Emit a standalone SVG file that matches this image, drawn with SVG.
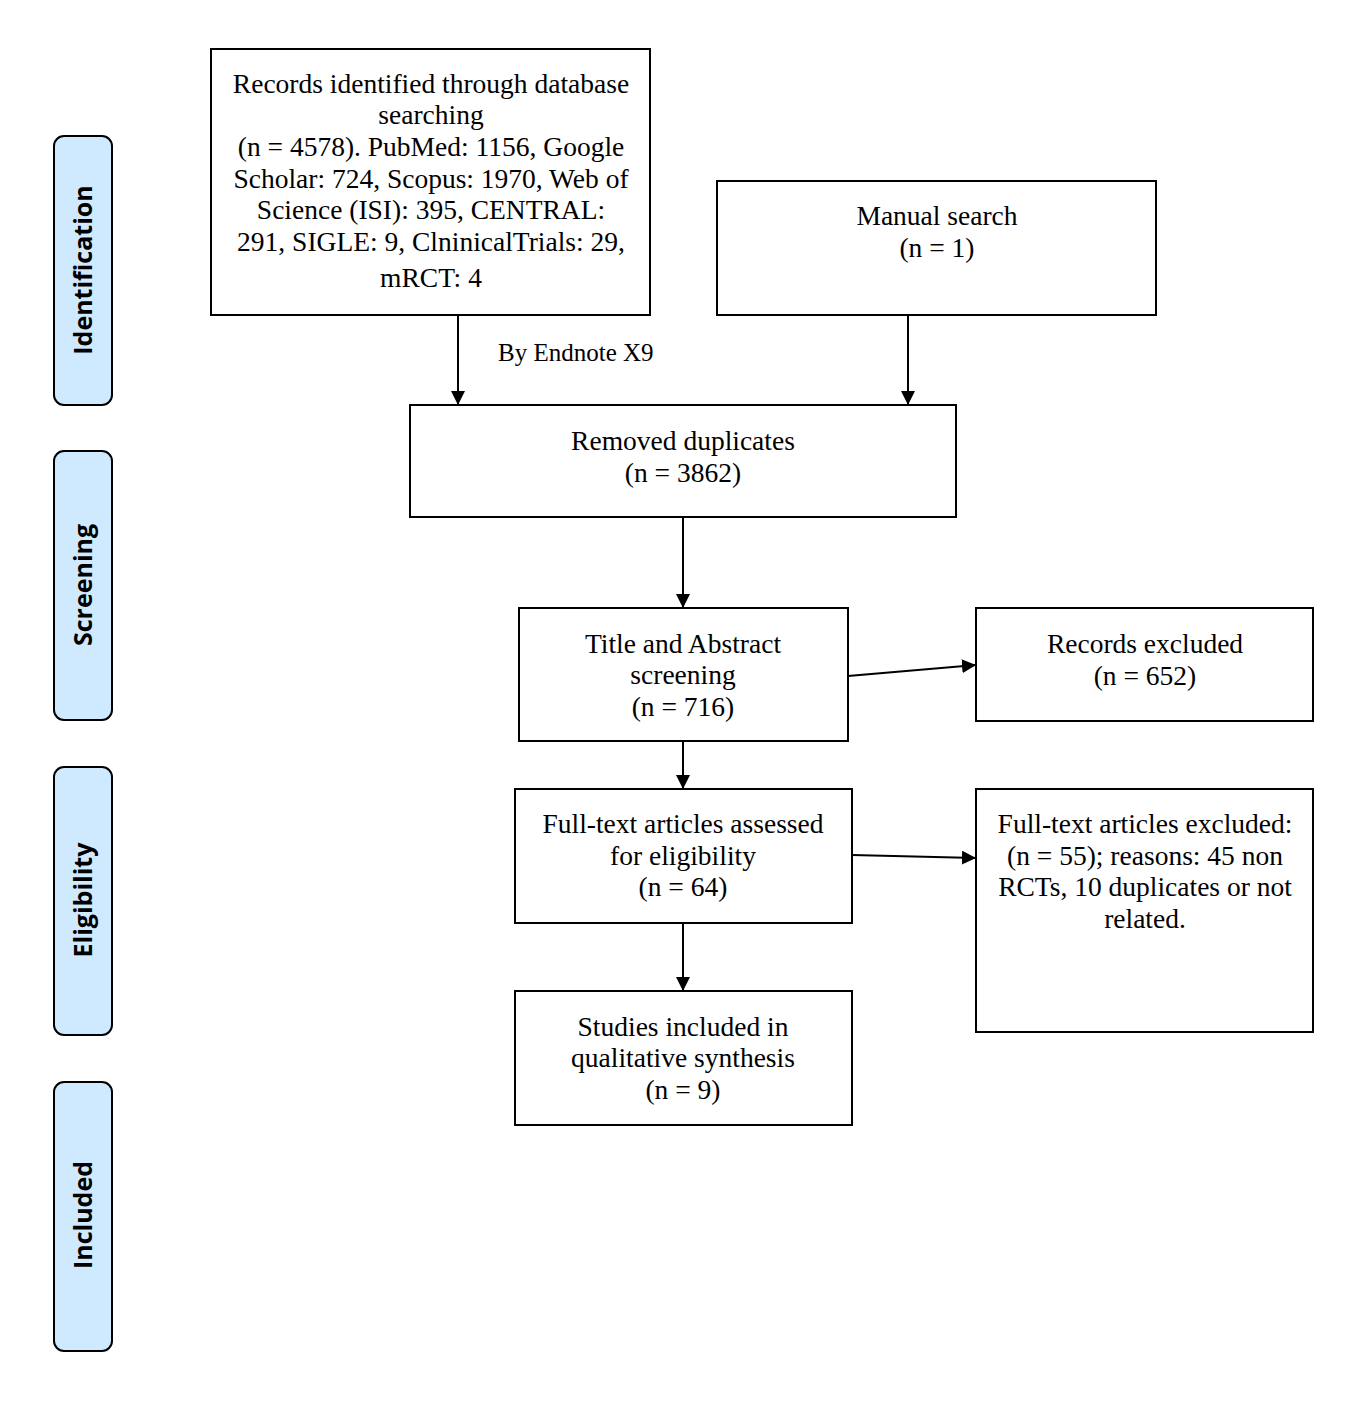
<svg xmlns="http://www.w3.org/2000/svg" width="1372" height="1408" viewBox="0 0 1372 1408">
<defs>
<marker id="ah" viewBox="0 0 10 10" refX="10" refY="5" markerWidth="14" markerHeight="14" markerUnits="userSpaceOnUse" orient="auto"><path d="M0,0 L10,5 L0,10 z" fill="#000"/></marker>
<style>
.box{fill:#fff;stroke:#000;stroke-width:2}
.side{fill:#cfeaff;stroke:#000;stroke-width:2}
.t{font-family:"Liberation Serif","Times New Roman",serif;font-size:27.5px;fill:#000;text-anchor:middle}
.s{font-family:"Open Sans","DejaVu Sans",sans-serif;font-size:25px;font-weight:bold;fill:#000;text-anchor:middle}
.c{stroke:#000;stroke-width:2;fill:none;marker-end:url(#ah)}
</style>
</defs>
<rect width="1372" height="1408" fill="#fff"/>
<g id="stage-identification"><rect class="side" x="54" y="136" width="58" height="269" rx="10"/><text class="s" transform="translate(92,270) rotate(-90)">Identification</text></g>
<g id="stage-screening"><rect class="side" x="54" y="451" width="58" height="269" rx="10"/><text class="s" transform="translate(92,585) rotate(-90)">Screening</text></g>
<g id="stage-eligibility"><rect class="side" x="54" y="767" width="58" height="268" rx="10"/><text class="s" transform="translate(92,900) rotate(-90)">Eligibility</text></g>
<g id="stage-included"><rect class="side" x="54" y="1082" width="58" height="269" rx="10"/><text class="s" transform="translate(92,1215) rotate(-90)">Included</text></g>

<g id="records"><rect class="box" x="211" y="49" width="439" height="266"/>
<text class="t"><tspan x="431" y="93">Records identified through database</tspan><tspan x="431" y="124">searching</tspan><tspan x="431" y="156">(n = 4578). PubMed: 1156, Google</tspan><tspan x="431" y="188">Scholar: 724, Scopus: 1970, Web of</tspan><tspan x="431" y="219">Science (ISI): 395, CENTRAL:</tspan><tspan x="431" y="251">291, SIGLE: 9, ClninicalTrials: 29,</tspan><tspan x="431" y="287">mRCT: 4</tspan></text></g>
<g id="manual"><rect class="box" x="717" y="181" width="439" height="134"/>
<text class="t"><tspan x="937" y="225">Manual search</tspan><tspan x="937" y="257">(n = 1)</tspan></text></g>
<g id="duplicates"><rect class="box" x="410" y="405" width="546" height="112"/>
<text class="t"><tspan x="683" y="450">Removed duplicates</tspan><tspan x="683" y="482">(n = 3862)</tspan></text></g>
<g id="screening"><rect class="box" x="519" y="608" width="329" height="133"/>
<text class="t"><tspan x="683" y="653">Title and Abstract</tspan><tspan x="683" y="684">screening</tspan><tspan x="683" y="716">(n = 716)</tspan></text></g>
<g id="excluded1"><rect class="box" x="976" y="608" width="337" height="113"/>
<text class="t"><tspan x="1145" y="653">Records excluded</tspan><tspan x="1145" y="685">(n = 652)</tspan></text></g>
<g id="fulltext"><rect class="box" x="515" y="789" width="337" height="134"/>
<text class="t"><tspan x="683" y="833">Full-text articles assessed</tspan><tspan x="683" y="865">for eligibility</tspan><tspan x="683" y="896">(n = 64)</tspan></text></g>
<g id="excluded2"><rect class="box" x="976" y="789" width="337" height="243"/>
<text class="t"><tspan x="1145" y="833">Full-text articles excluded:</tspan><tspan x="1145" y="865">(n = 55); reasons: 45 non</tspan><tspan x="1145" y="896">RCTs, 10 duplicates or not</tspan><tspan x="1145" y="928">related.</tspan></text></g>
<g id="included"><rect class="box" x="515" y="991" width="337" height="134"/>
<text class="t"><tspan x="683" y="1036">Studies included in</tspan><tspan x="683" y="1067">qualitative synthesis</tspan><tspan x="683" y="1099">(n = 9)</tspan></text></g>

<g id="connectors">
<line class="c" x1="458" y1="315" x2="458" y2="405"/>
<line class="c" x1="908" y1="315" x2="908" y2="405"/>
<line class="c" x1="683" y1="517" x2="683" y2="608"/>
<line class="c" x1="683" y1="741" x2="683" y2="789"/>
<line class="c" x1="683" y1="923" x2="683" y2="991"/>
<line class="c" x1="848" y1="676" x2="976" y2="665"/>
<line class="c" x1="852" y1="855" x2="976" y2="858"/>
<text x="498" y="361" font-family="Liberation Serif, Times New Roman, serif" font-size="25" fill="#000">By Endnote X9</text>
</g>
</svg>
